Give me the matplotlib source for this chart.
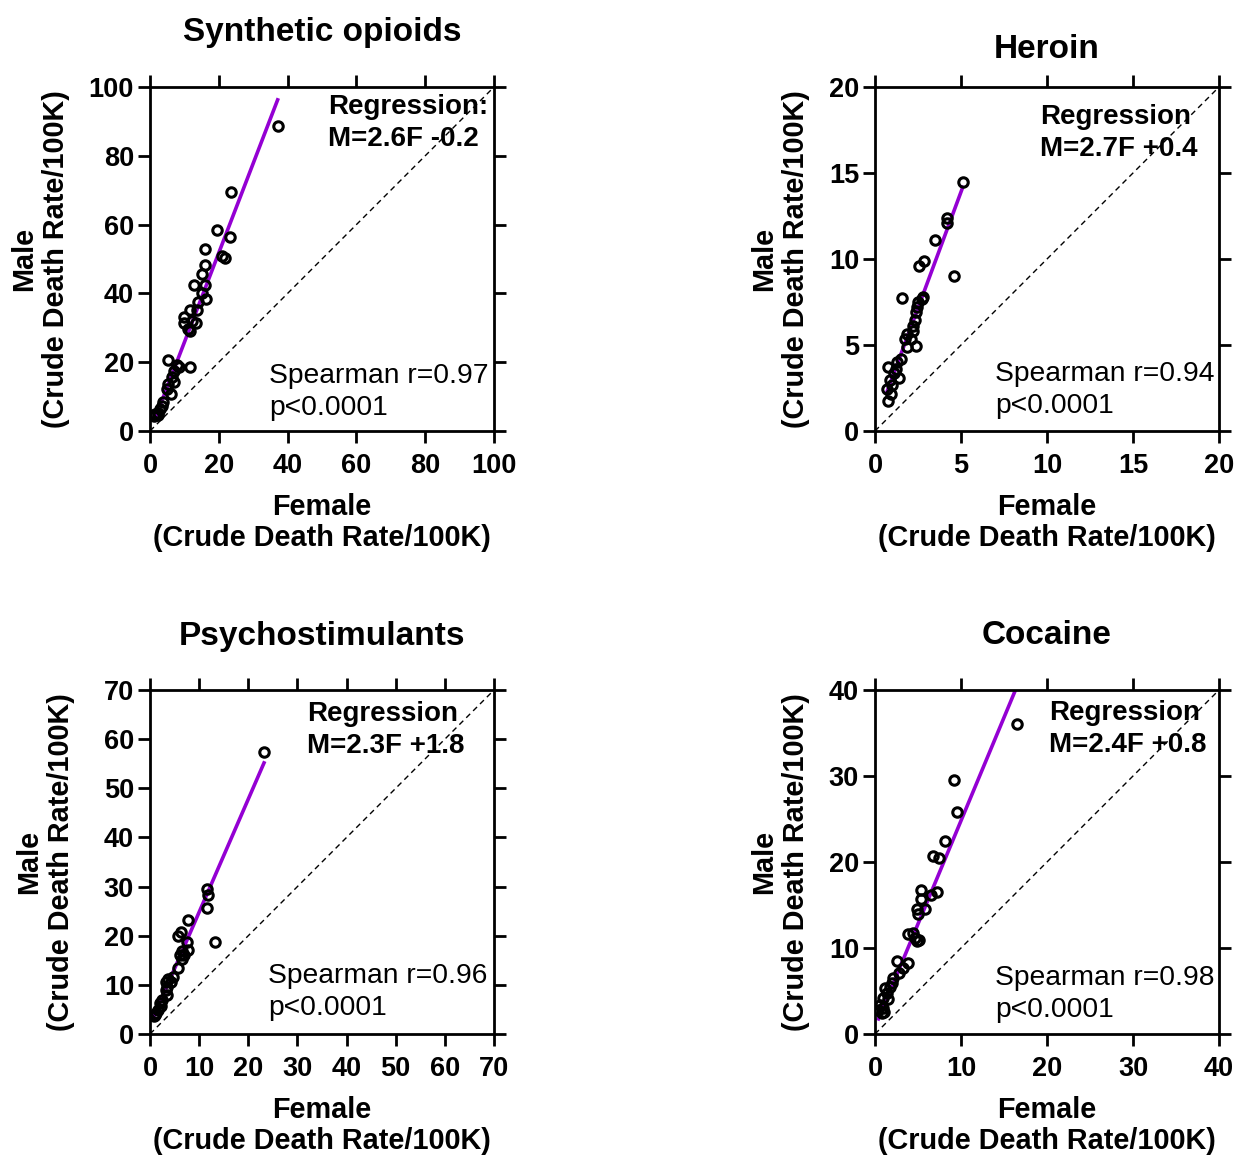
import matplotlib
matplotlib.use("Agg")
import matplotlib.pyplot as plt
import numpy as np

plt.rcParams['font.family'] = ['Liberation Sans', 'DejaVu Sans']

# Synthetic opioids (female, male crude death rate / 100K)
opioid_f = [37.1, 23.5, 19.5, 23.2, 21.0, 21.8, 16.1, 16.1, 15.2, 12.8, 16.0, 15.2, 16.3, 13.9,
            11.6, 13.6, 10.0, 10.0, 11.1, 12.1, 13.3, 11.6, 5.1, 7.8, 8.3, 11.6, 7.1, 6.3, 7.0,
            5.1, 4.8, 6.0, 3.9, 3.4, 3.0, 2.2, 1.5, 2.4, 1.3]
opioid_m = [88.6, 69.5, 58.3, 56.4, 51.0, 50.3, 53.0, 48.4, 45.7, 42.5, 42.3, 40.0, 38.3, 37.6,
            35.3, 35.3, 33.2, 31.3, 29.6, 32.1, 31.3, 29.2, 20.6, 19.1, 18.5, 18.7, 17.3, 15.7, 14.3,
            13.6, 12.2, 10.7, 8.3, 7.3, 6.3, 5.3, 4.9, 4.6, 4.5]

# Heroin
heroin_f = [5.1, 4.17, 4.2, 3.49, 2.87, 2.58, 4.61, 1.57, 2.81, 2.72, 2.52, 2.42, 2.38, 2.33,
            2.23, 2.19, 1.88, 1.74, 2.1, 1.88, 2.38, 1.49, 1.3, 0.77, 1.2, 1.1, 1.41, 0.87, 0.68,
            0.91, 0.77, 0.99]
heroin_m = [14.5, 12.4, 12.1, 11.1, 9.87, 9.62, 9.02, 7.74, 7.81, 7.66, 7.48, 7.19, 6.9, 6.47,
            6.12, 5.79, 5.64, 5.35, 5.35, 4.9, 4.92, 4.18, 4.04, 3.75, 3.6, 3.4, 3.11, 2.96, 2.43,
            2.14, 1.75, 2.7]

# Psychostimulants
psycho_f = [23.2, 11.7, 11.8, 11.5, 7.67, 13.2, 6.3, 5.6, 7.46, 7.8, 6.44, 6.2, 6.5, 6.9, 5.76,
            4.74, 3.73, 3.3, 4.2, 3.19, 3.5, 2.03, 2.5, 1.7, 1.0, 0.8, 1.3, 3.4, 2.2]
psycho_m = [57.4, 29.5, 28.3, 25.6, 23.1, 18.8, 20.8, 20.0, 18.8, 17.1, 16.9, 16.0, 15.3, 16.1,
            13.4, 11.7, 11.1, 10.5, 10.5, 8.96, 8.0, 6.25, 6.9, 4.9, 3.9, 3.6, 4.2, 9.6, 5.6]

# Cocaine
cocaine_f = [16.5, 9.19, 9.5, 8.14, 6.7, 7.48, 5.35, 7.25, 6.47, 5.31, 4.84, 5.81, 5.04, 3.88,
             4.46, 4.65, 5.15, 4.9, 2.52, 3.88, 3.29, 2.83, 2.13, 1.94, 1.16, 1.74, 1.36, 0.97,
             1.5, 0.58, 0.97, 0.78, 1.1, 0.4]
cocaine_m = [36.1, 29.5, 25.8, 22.4, 20.7, 20.5, 16.8, 16.5, 16.2, 15.7, 14.5, 14.5, 14.0, 11.6,
             11.8, 11.2, 10.9, 10.8, 8.49, 8.22, 7.71, 7.13, 6.47, 5.9, 5.31, 5.5, 4.73, 4.15,
             4.1, 3.37, 3.0, 2.4, 2.6, 2.8]

titles = ["Synthetic opioids", "Heroin", "Psychostimulants", "Cocaine"]
slopes = [2.6, 2.7, 2.3, 2.4]
intercepts = [-0.2, 0.4, 1.8, 0.8]
reg_labels = ["Regression:\nM=2.6F -0.2", "Regression\nM=2.7F +0.4",
              "Regression\nM=2.3F +1.8", "Regression\nM=2.4F +0.8"]
spearman_r = ["0.97", "0.94", "0.96", "0.98"]
axis_max = [100, 20, 70, 40]
tick_step = [20, 5, 10, 10]

W, H = 1237, 1156
fig = plt.figure(figsize=(W / 100, H / 100), dpi=100)

# axes boxes in pixels: left, top, size
boxes = [(150, 87), (875, 87), (150, 690), (875, 690)]
title_y = [32, 49, 636, 636]
reg_pos = [(0.517, 0.942), (0.480, 0.913), (0.456, 0.930), (0.506, 0.933)]
sp_pos = [(0.346, 0.160), (0.349, 0.166), (0.343, 0.169), (0.349, 0.163)]
ylab_x = [-0.320, -0.276, -0.305, -0.276]
data = [(opioid_f, opioid_m), (heroin_f, heroin_m), (psycho_f, psycho_m), (cocaine_f, cocaine_m)]
size = 344
purple = '#9400D3'

for i in range(4):
    left, top = boxes[i]
    ax = fig.add_axes([left / W, 1 - (top + size) / H, size / W, size / H])
    f = np.array(data[i][0])
    m = np.array(data[i][1])
    mx = axis_max[i]

    ax.plot([0, mx], [0, mx], color='black', lw=1.0, ls=(0, (4, 3)), zorder=1)
    xr = np.array([f.min(), f.max()])
    ax.plot(xr, slopes[i] * xr + intercepts[i], color=purple, lw=2.6, zorder=2)
    ax.plot(f, m, 'o', ms=6.8, mfc='none', mec='black', mew=2.2, zorder=3)

    ax.set_xlim(0, mx)
    ax.set_ylim(0, mx)
    ticks = np.arange(0, mx + 1, tick_step[i])
    ax.set_xticks(ticks)
    ax.set_yticks(ticks)
    ax.tick_params(direction='out', length=8.5, width=2.0, labelsize=19.5,
                   top=True, right=True)
    ax.tick_params(axis='x', pad=7)
    ax.tick_params(axis='y', pad=3)
    for lab in ax.get_xticklabels() + ax.get_yticklabels():
        lab.set_fontweight('bold')
    for sp in ax.spines.values():
        sp.set_linewidth(2.0)

    ax.text(reg_pos[i][0], reg_pos[i][1], reg_labels[i].split('\n')[0], transform=ax.transAxes,
            fontsize=20, fontweight='bold', ha='left', va='center')
    ax.text(reg_pos[i][0], reg_pos[i][1] - 0.093, reg_labels[i].split('\n')[1], transform=ax.transAxes,
            fontsize=20, fontweight='bold', ha='left', va='center')
    ax.text(sp_pos[i][0], sp_pos[i][1], "Spearman r=" + spearman_r[i], transform=ax.transAxes,
            fontsize=20.3, ha='left', va='center')
    ax.text(sp_pos[i][0], sp_pos[i][1] - 0.092, "p<0.0001", transform=ax.transAxes,
            fontsize=20.3, ha='left', va='center')

    ax.text(0.5, -0.265, "Female\n(Crude Death Rate/100K)", transform=ax.transAxes,
            fontsize=20.8, fontweight='bold', ha='center', va='center', linespacing=1.15)
    ax.text(ylab_x[i], 0.5, "Male\n(Crude Death Rate/100K)", transform=ax.transAxes,
            fontsize=20.8, fontweight='bold', ha='center', va='center', rotation=90,
            linespacing=1.15)

    fig.text((left + size / 2) / W, 1 - title_y[i] / H, titles[i], fontsize=24,
             fontweight='bold', ha='center', va='center')

fig.savefig('out.png', dpi=100)
